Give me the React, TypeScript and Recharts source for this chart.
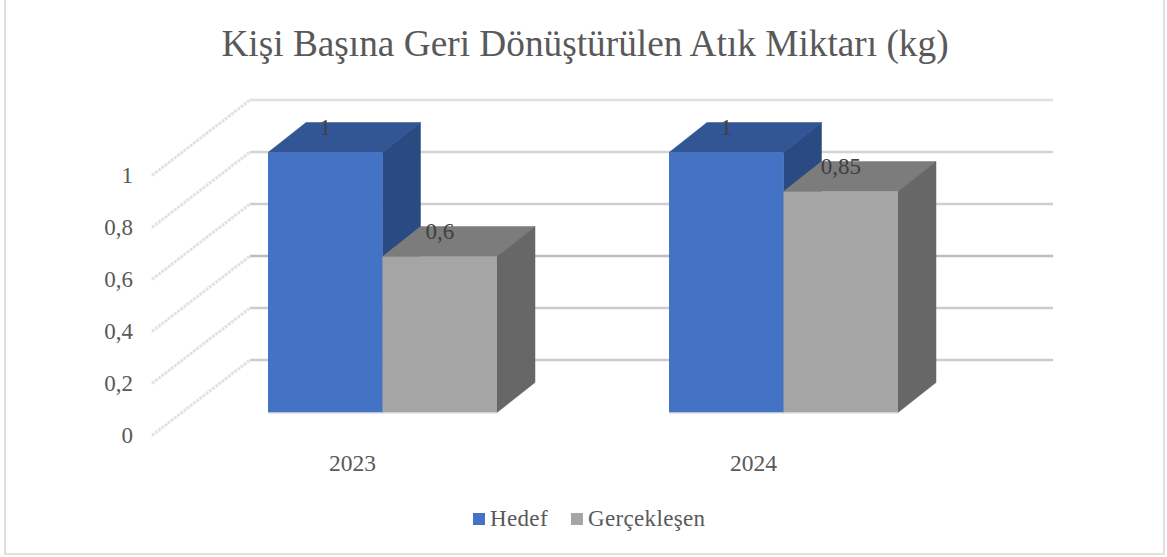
import { BarChart, Bar, XAxis, YAxis, CartesianGrid, Legend, LabelList } from 'recharts';

const years = ['2023', '2024'];
const hedef = [1, 1];
const gerceklesen = [0.6, 0.85];
const yTicks = [0, 0.2, 0.4, 0.6, 0.8, 1];
const title = 'Kişi Başına Geri Dönüştürülen Atık Miktarı (kg)';

const data = years.map((year, i) => ({ year, Hedef: hedef[i], 'Gerçekleşen': gerceklesen[i] }));

const FONT = '"Liberation Serif", serif';
const DEPTH_X = 38;
const DEPTH_Y = 30;
const WALL_RISE = 52.5;
const wallColors = ['#cccccc', '#cccccc', '#bdbdbd', '#cfcfcf', '#d4d4d4', '#e0e0e0'];

const comma = (v: any) => String(v).replace('.', ',');

// 3D box: front face comes from the bar's own scale, top and side are offset by the depth
function Box({ x, y, width, height, front, top, side }: any) {
  const r = x + width;
  const b = y + height;
  return (
    <g>
      <polygon points={`${x},${y} ${x + DEPTH_X},${y - DEPTH_Y} ${r + DEPTH_X},${y - DEPTH_Y} ${r},${y}`} fill={top} stroke={top} strokeWidth={0.5} />
      <polygon points={`${r},${y} ${r + DEPTH_X},${y - DEPTH_Y} ${r + DEPTH_X},${b - DEPTH_Y} ${r},${b}`} fill={side} stroke={side} strokeWidth={0.5} />
      <rect x={x} y={y} width={width} height={height} fill={front} />
      <line x1={x} y1={b + 0.5} x2={r} y2={b + 0.5} stroke="#d0d0d0" strokeWidth={1} />
    </g>
  );
}

function WallLine({ y1, index }: any) {
  const backY = y1 - WALL_RISE;
  return (
    <g>
      <line x1={152} y1={y1 + 23} x2={250} y2={backY} stroke="#e2e2e2" strokeWidth={3} strokeDasharray="3 1" />
      <line x1={250} y1={backY} x2={1053} y2={backY} stroke={wallColors[index] || '#cfcfcf'} strokeWidth={2.5} />
    </g>
  );
}

function YTick({ y, payload }: any) {
  return (
    <text x={133} y={y + 25} textAnchor="end" dominantBaseline="middle" fontFamily={FONT} fontSize={23} fill="#595959">
      {comma(payload.value)}
    </text>
  );
}

function XTick({ x, payload }: any) {
  return (
    <text x={x - 30} y={466} textAnchor="middle" dominantBaseline="middle" fontFamily={FONT} fontSize={23.5} fill="#595959">
      {payload.value}
    </text>
  );
}

function LegendRow({ payload }: any) {
  return (
    <div style={{ display: 'flex', alignItems: 'center', fontFamily: FONT, fontSize: 23, letterSpacing: 0.35, color: '#595959', lineHeight: '24px' }}>
      {(payload || []).map((item: any) => (
        <div key={item.value} style={{ display: 'flex', alignItems: 'center', marginRight: 23 }}>
          <span style={{ width: 12, height: 12, background: item.color, marginRight: 5 }} />
          <span>{item.value}</span>
        </div>
      ))}
    </div>
  );
}

export default function App() {
  return (
    <div style={{ position: 'absolute', left: 0, top: 0, width: 1167, height: 557, background: '#fff', overflow: 'hidden' }}>
      <div style={{ position: 'absolute', left: 4, top: 0, width: 1161, height: 555, boxSizing: 'border-box', border: '2px solid #e0e0e0', borderTop: 'none' }} />
      <BarChart
        width={1167}
        height={557}
        data={data}
        barSize={114.5}
        barGap={0}
        margin={{ top: 152.5, right: 183, bottom: 104.5, left: 122 }}
      >
        <text x={585} y={56} textAnchor="middle" fontFamily={FONT} fontSize={37.3} fill="#595959">
          {title}
        </text>
        <CartesianGrid vertical={false} horizontal={(p: any) => <WallLine key={p.key} {...p} />} horizontalValues={yTicks} />
        <XAxis dataKey="year" height={40} axisLine={false} tickLine={false} tick={<XTick />} />
        <YAxis width={60} domain={[0, 1]} ticks={yTicks} axisLine={false} tickLine={false} tick={<YTick />} />
        <Legend
          verticalAlign="middle"
          align="center"
          itemSorter={null}
          content={<LegendRow />}
          wrapperStyle={{ top: 507, left: 473, width: 300, height: 24 }}
        />
        <Bar dataKey="Hedef" fill="#4472C4" isAnimationActive={false} shape={<Box front="#4472C4" top="#325596" side="#294a82" />}>
          <LabelList dataKey="Hedef" position="top" offset={18} formatter={comma} fontFamily={FONT} fontSize={23} fill="#404040" />
        </Bar>
        <Bar dataKey="Gerçekleşen" fill="#A5A5A5" isAnimationActive={false} shape={<Box front="#A5A5A5" top="#7c7c7c" side="#676767" />}>
          <LabelList dataKey="Gerçekleşen" position="top" offset={18} formatter={comma} fontFamily={FONT} fontSize={23} fill="#404040" />
        </Bar>
      </BarChart>
    </div>
  );
}
